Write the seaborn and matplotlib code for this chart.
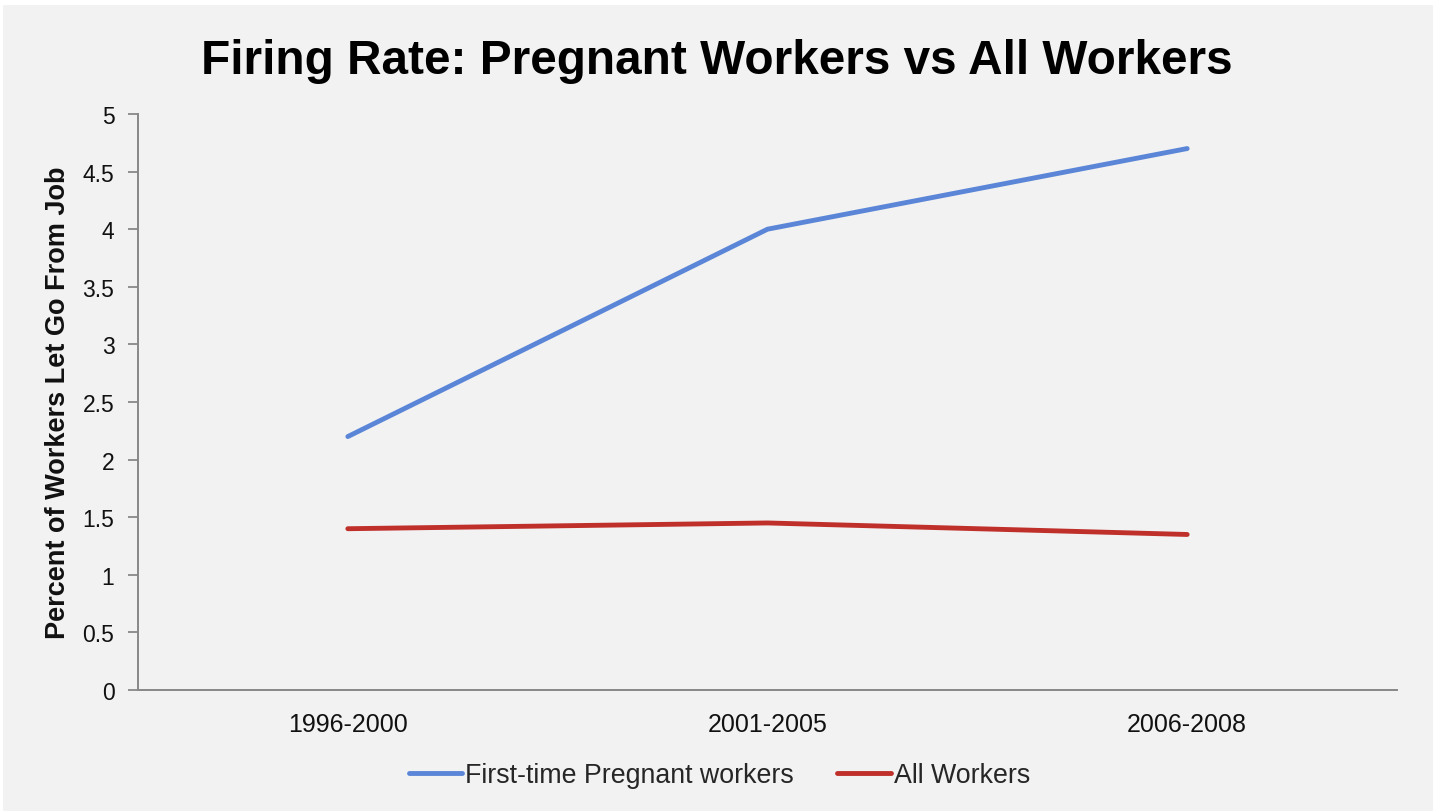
import pandas as pd
import matplotlib
matplotlib.use("Agg")
import matplotlib.pyplot as plt
import seaborn as sns
from matplotlib.patches import Rectangle

# data
periods = ["1996-2000", "2001-2005", "2006-2008"]
pregnant = [2.2, 4.0, 4.7]
all_workers = [1.4, 1.45, 1.35]
series_names = ["First-time Pregnant workers", "All Workers"]
colors = ["#5b86d8", "#c0302b"]

df = pd.DataFrame({
    "period": periods * 2,
    "pos": list(range(len(periods))) * 2,
    "value": pregnant + all_workers,
    "series": [series_names[0]] * len(periods) + [series_names[1]] * len(periods),
})

sns.set_theme(style="white")
plt.rcParams["font.family"] = ["Liberation Sans", "DejaVu Sans"]

bg = "#f2f2f2"
fig = plt.figure(figsize=(14.33, 8.12), dpi=100, facecolor="white")
fig.patches.append(Rectangle((3 / 1433, 0), 1, 1 - 6 / 812, transform=fig.transFigure,
                             facecolor=bg, edgecolor="none", zorder=-10))
ax = fig.add_axes([138 / 1433, 1 - 691 / 812, (1397 - 138) / 1433, (691 - 115) / 812])
ax.set_facecolor(bg)

sns.lineplot(data=df, x="pos", y="value", hue="series", palette=colors,
             linewidth=3.5, ax=ax, legend=False)

# axes and ticks
ax.set_xlim(-0.5, len(periods) - 0.5)
ax.set_ylim(0, 5)
ax.set_yticks([i * 0.5 for i in range(11)])
ax.set_yticklabels(["0", "0.5", "1", "1.5", "2", "2.5", "3", "3.5", "4", "4.5", "5"])
ax.set_xticks(range(len(periods)))
ax.set_xticklabels(periods)
ax.set_xticks([i - 0.5 for i in range(len(periods) + 1)], minor=True)
ax.tick_params(axis="x", which="major", length=0, pad=16, labelsize=18, colors="#111111")
ax.tick_params(axis="x", which="minor", length=7, width=1.3, color="#888888", direction="out")
ax.tick_params(axis="y", length=7, width=1.3, color="#888888", direction="out",
               left=True, pad=10, labelsize=16.5, labelcolor="#111111")

for side in ["top", "right"]:
    ax.spines[side].set_visible(False)
for side in ["left", "bottom"]:
    ax.spines[side].set_color("#888888")
    ax.spines[side].set_linewidth(1.4)

ax.set_xlabel("")
ax.set_ylabel("Percent of Workers Let Go From Job", fontsize=19.5, fontweight="bold",
              labelpad=8, color="#111111")

fig.text(0.5, 1 - 61 / 812, "Firing Rate: Pregnant Workers vs All Workers",
         ha="center", va="center", fontsize=34.4, fontweight="bold", color="black")

# legend at the bottom
handles = [plt.Line2D([], [], color=c, linewidth=3.5) for c in colors]
fig.legend(handles, series_names, loc="center", bbox_to_anchor=(0.502, 1 - 776 / 812),
           ncol=2, frameon=False, fontsize=19.3, handlelength=2.0, handletextpad=0.12,
           columnspacing=1.6)

fig.savefig("out.png", dpi=100, facecolor=fig.get_facecolor())
